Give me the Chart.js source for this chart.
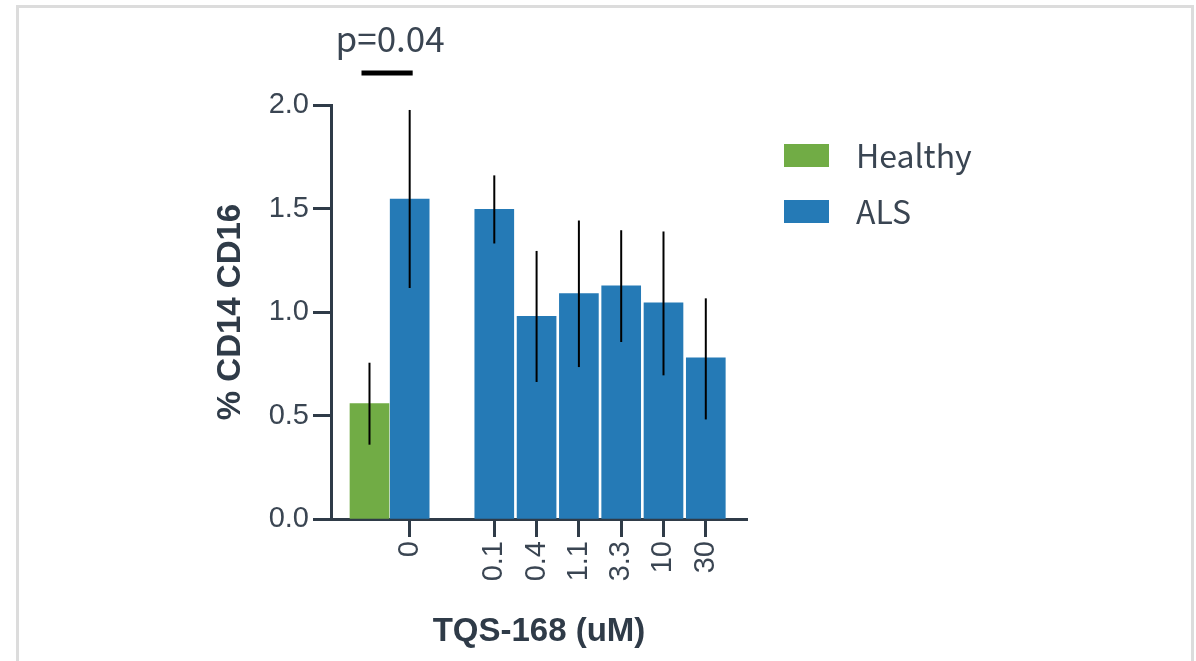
<!DOCTYPE html>
<html>
<head>
<meta charset="utf-8">
<script src="https://cdn.jsdelivr.net/npm/chart.js@4"></script>
<style>
  body { margin: 0; background: #fff; overflow: hidden; }
  #frame { position: absolute; left: 16px; top: 5px; width: 1172px; height: 700px; border: 3px solid #dcdcdc; }
  #wrap { position: absolute; left: 0; top: 0; width: 1196px; height: 661px; }
</style>
</head>
<body>
<div id="frame"></div>
<div id="wrap"><canvas id="chart"></canvas></div>
<script>
// positions on the x axis: ~0 = healthy, 1 = ALS untreated, 3..8 = TQS-168 doses
const tickPos = [1, 3, 4, 5, 6, 7, 8];
const xTickLabels = ['0', '0.1', '0.4', '1.1', '3.3', '10', '30'];

const healthyX = [0.05];
const healthyValues = [0.557];
const healthyErrLow = [0.359];
const healthyErrHigh = [0.755];

const alsX = [1, 3, 4, 5, 6, 7, 8];
const alsValues = [1.545, 1.496, 0.979, 1.089, 1.126, 1.044, 0.778];
const alsErrLow = [1.116, 1.331, 0.662, 0.734, 0.855, 0.694, 0.481];
const alsErrHigh = [1.976, 1.66, 1.295, 1.442, 1.395, 1.389, 1.066];

const yTicks = [0, 0.5, 1.0, 1.5, 2.0];
const pLabel = 'p=0.04';
const sigLevel = 2.155;

const axisColor = '#2f3b48';
const textColor = '#3a4552';
const cjk = '"Noto Sans CJK JP", "Noto Sans", sans-serif';
const sans = '"Liberation Sans", Arial, sans-serif';

const errBars = [
    { low: healthyErrLow, high: healthyErrHigh },
    { low: alsErrLow, high: alsErrHigh }
];

// error bars, significance bracket and legend
const extras = {
    id: 'extras',
    afterDatasetsDraw(chart) {
        const ctx = chart.ctx;
        const y = chart.scales.y;
        const x = chart.scales.x;
        ctx.save();
        ctx.strokeStyle = '#000';
        ctx.lineWidth = 2;
        chart.data.datasets.forEach((ds, i) => {
            const meta = chart.getDatasetMeta(i);
            meta.data.forEach((bar, j) => {
                ctx.beginPath();
                ctx.moveTo(bar.x, y.getPixelForValue(errBars[i].low[j]));
                ctx.lineTo(bar.x, y.getPixelForValue(errBars[i].high[j]));
                ctx.stroke();
            });
        });

        // p value bracket
        const sy = y.getPixelForValue(sigLevel);
        const x0 = x.getPixelForValue(healthyX[0]) - 8;
        const x1 = x.getPixelForValue(alsX[0]) + 3;
        ctx.lineWidth = 5;
        ctx.beginPath();
        ctx.moveTo(x0, sy);
        ctx.lineTo(x1, sy);
        ctx.stroke();
        ctx.fillStyle = textColor;
        ctx.font = '35px ' + cjk;
        ctx.textAlign = 'center';
        ctx.textBaseline = 'alphabetic';
        ctx.fillText(pLabel, (x0 + x1) / 2 + 3, sy - 21);

        // legend
        ctx.textAlign = 'left';
        ctx.textBaseline = 'middle';
        ctx.font = '32px ' + cjk;
        chart.data.datasets.forEach((ds, i) => {
            const top = 144 + i * 56;
            ctx.fillStyle = ds.backgroundColor;
            ctx.fillRect(784, top, 45, 23);
            ctx.fillStyle = textColor;
            ctx.fillText(ds.label, 856, top + 12);
        });
        ctx.restore();
    }
};

const ctx = document.getElementById('chart').getContext('2d');
new Chart(ctx, {
    type: 'bar',
    data: {
        datasets: [{
            label: 'Healthy',
            data: healthyX.map((v, i) => ({ x: v, y: healthyValues[i] })),
            backgroundColor: '#71ac45',
            barThickness: 39,
            grouped: false
        }, {
            label: 'ALS',
            data: alsX.map((v, i) => ({ x: v, y: alsValues[i] })),
            backgroundColor: '#257ab6',
            barThickness: 39,
            grouped: false
        }]
    },
    options: {
        responsive: true,
        maintainAspectRatio: false,
        animation: false,
        layout: { padding: { top: 105, right: 449, bottom: 0, left: 0 } },
        plugins: {
            legend: { display: false },
            tooltip: { enabled: false }
        },
        scales: {
            x: {
                type: 'linear',
                min: -0.86,
                max: 8.974,
                offset: false,
                afterBuildTicks: (scale) => { scale.ticks = tickPos.map(v => ({ value: v })); },
                afterFit: (scale) => { scale.height = 142; },
                ticks: {
                    autoSkip: false,
                    minRotation: 90,
                    maxRotation: 90,
                    padding: 4,
                    color: textColor,
                    font: { family: sans, size: 29 },
                    callback: (v, i) => xTickLabels[i]
                },
                grid: {
                    offset: false,
                    drawOnChartArea: false,
                    drawTicks: true,
                    tickLength: 18,
                    tickWidth: 3,
                    tickColor: axisColor
                },
                border: { display: true, width: 3, color: axisColor },
                title: {
                    display: true,
                    text: 'TQS-168 (uM)',
                    color: axisColor,
                    font: { family: sans, size: 33, weight: 'bold' },
                    padding: { top: 0, bottom: 9 }
                }
            },
            y: {
                min: 0,
                max: 2,
                afterBuildTicks: (scale) => { scale.ticks = yTicks.map(v => ({ value: v })); },
                afterFit: (scale) => { scale.width = 331; },
                ticks: {
                    padding: 4,
                    color: textColor,
                    font: { family: sans, size: 29 },
                    callback: (v) => v.toFixed(1)
                },
                grid: {
                    drawOnChartArea: false,
                    drawTicks: true,
                    tickLength: 18,
                    tickWidth: 3,
                    tickColor: axisColor
                },
                border: { display: true, width: 3, color: axisColor },
                title: {
                    display: true,
                    text: '% CD14 CD16',
                    color: axisColor,
                    font: { family: sans, size: 33, weight: 'bold' },
                    padding: { top: 211, bottom: 0 }
                }
            }
        }
    },
    plugins: [extras]
});
</script>
</body>
</html>
